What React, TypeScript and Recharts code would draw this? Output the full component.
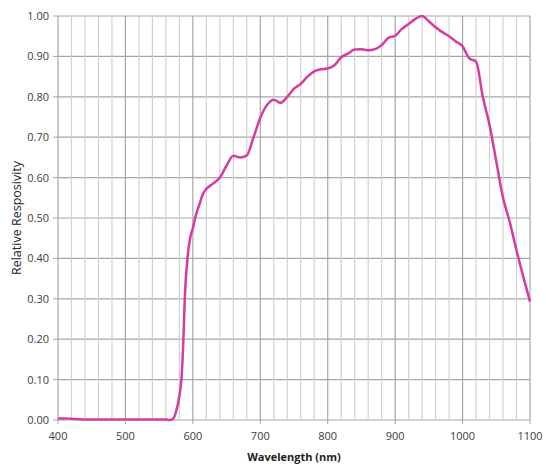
import { LineChart, Line, XAxis, YAxis, CartesianGrid, ReferenceLine } from "recharts";

const wavelengths = [
  400, 410, 420, 430, 440, 460, 480, 500, 520, 540, 560, 565, 570, 575, 580, 583, 586, 588, 592, 596,
  600, 605, 610, 615, 620, 630, 640, 650, 660, 670, 680, 690, 700, 710, 720, 730, 740, 750, 760, 770,
  780, 790, 800, 810, 820, 830, 840, 850, 860, 870, 880, 890, 900, 910, 920, 930, 940, 950, 960, 970,
  980, 990, 1000, 1010, 1020, 1030, 1040, 1050, 1060, 1070, 1080, 1090, 1100,
];

const responsivity = [
  0.004, 0.004, 0.003, 0.002, 0.001, 0.001, 0.001, 0.001, 0.001, 0.001, 0.001, 0.0, 0.002, 0.02, 0.06, 0.1, 0.2, 0.3, 0.4, 0.45,
  0.475, 0.51, 0.535, 0.56, 0.572, 0.585, 0.6, 0.63, 0.654, 0.65, 0.655, 0.7, 0.748, 0.78, 0.793, 0.785, 0.8, 0.82, 0.832, 0.85,
  0.863, 0.868, 0.87, 0.878, 0.898, 0.907, 0.917, 0.918, 0.915, 0.918, 0.928, 0.946, 0.951, 0.968, 0.98, 0.993, 1.0, 0.987, 0.972, 0.96,
  0.95, 0.937, 0.925, 0.895, 0.887, 0.8, 0.73, 0.64, 0.55, 0.49, 0.42, 0.355, 0.293,
];

const xTicks = [400, 500, 600, 700, 800, 900, 1000, 1100];
const xMinor = [
  420, 440, 460, 480, 520, 540, 560, 580, 620, 640, 660, 680, 720, 740, 760, 780, 820, 840, 860, 880,
  920, 940, 960, 980, 1020, 1040, 1060, 1080,
];
const yTicks = [0, 0.1, 0.2, 0.3, 0.4, 0.5, 0.6, 0.7, 0.8, 0.9, 1.0];

const data = wavelengths.map((w, i) => ({ w, r: responsivity[i] }));

const font = "'Open Sans', sans-serif";
const tick = { fontSize: 11, fill: "#404040", fontFamily: font };

export default function App() {
  return (
    <div style={{ position: "absolute", left: 0, top: 0, background: "#fff" }}>
      <LineChart width={546} height={465} data={data} margin={{ top: 16, right: 16, left: 8, bottom: 20 }}>
        <CartesianGrid stroke="#a6a6a6" strokeWidth={1.2} />
        {xMinor.map((x) => (
          <ReferenceLine key={x} x={x} stroke="#d0d0d0" strokeWidth={1.2} />
        ))}
        <XAxis
          dataKey="w"
          type="number"
          domain={[400, 1100]}
          ticks={xTicks}
          tick={tick}
          axisLine={false}
          tickLine={{ stroke: "#a6a6a6" }}
          tickSize={4}
          tickMargin={8}
          height={25}
          label={{
            value: "Wavelength (nm)",
            position: "bottom",
            offset: 8,
            style: { fontSize: 11, fontWeight: "bold", fill: "#222", fontFamily: font },
          }}
        />
        <YAxis
          type="number"
          domain={[0, 1]}
          ticks={yTicks}
          tickFormatter={(v: number) => v.toFixed(2)}
          tick={tick}
          axisLine={false}
          tickLine={{ stroke: "#a6a6a6" }}
          tickSize={5}
          tickMargin={4}
          width={50}
          label={{
            value: "Relative Resposivity",
            angle: -90,
            position: "insideLeft",
            offset: 9,
            style: { fontSize: 12.5, fill: "#222", fontFamily: font, textAnchor: "middle" },
          }}
        />
        <Line
          type="monotone"
          dataKey="r"
          stroke="#d63b9f"
          strokeWidth={2.5}
          dot={false}
          isAnimationActive={false}
        />
      </LineChart>
    </div>
  );
}
